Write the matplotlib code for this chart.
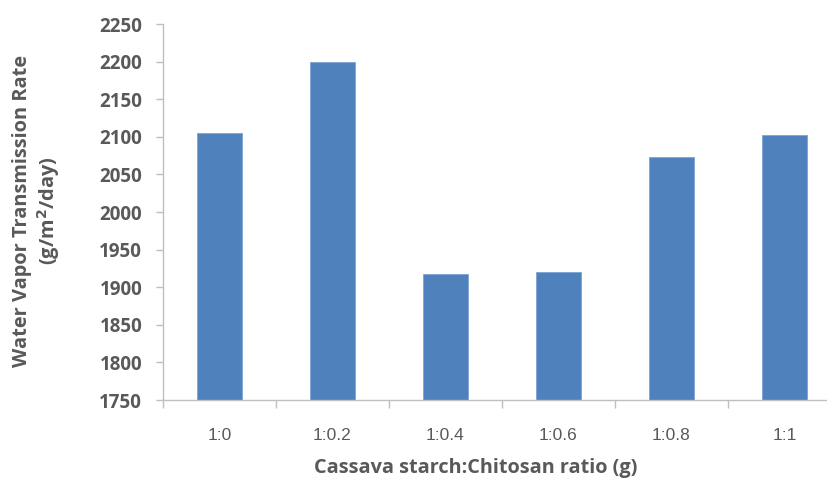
import matplotlib
matplotlib.use("Agg")
import matplotlib.pyplot as plt
from matplotlib.ticker import FixedLocator, NullFormatter

ratios = ['1:0', '1:0.2', '1:0.4', '1:0.6', '1:0.8', '1:1']
wvtr = [2105, 2200, 1918, 1920, 2073, 2102]
y_ticks = list(range(1750, 2251, 50))

bar_color = '#4F81BD'
axis_color = '#BFBFBF'
text_color = '#595959'

fig = plt.figure(figsize=(8.28, 4.9), dpi=100)
# right edge of the plot area runs past the picture, as in the original
ax = fig.add_axes([163 / 828, 1 - 400 / 490, 678 / 828, 376 / 490])

x = list(range(len(ratios)))
ax.bar(x, wvtr, width=0.4, color=bar_color, edgecolor='#7FA3D3', linewidth=0.6, zorder=2)

ax.set_xlim(-0.5, len(ratios) - 0.5)
ax.set_ylim(1750, 2250)
ax.set_yticks(y_ticks)
ax.set_yticklabels([str(v) for v in y_ticks], fontdict={'family': 'Open Sans', 'weight': 'bold', 'size': 13.5})

ax.set_xticks(x)
ax.set_xticklabels(ratios, family='Liberation Sans', size=12.5, color=text_color)
ax.xaxis.set_minor_locator(FixedLocator([i - 0.5 for i in range(len(ratios) + 1)]))
ax.xaxis.set_minor_formatter(NullFormatter())
ax.tick_params(axis='x', which='major', length=0, pad=20)
ax.tick_params(axis='x', which='minor', length=6, color=axis_color, width=1)
ax.tick_params(axis='y', length=5, color=axis_color, width=1, labelcolor=text_color, pad=10)

for side in ['top', 'right']:
    ax.spines[side].set_visible(False)
for side in ['left', 'bottom']:
    ax.spines[side].set_color(axis_color)
    ax.spines[side].set_linewidth(1)

fig.text(476 / 828, 1 - 468 / 490, 'Cassava starch:Chitosan ratio (g)', ha='center', va='center',
         family='Open Sans', weight='bold', size=14.3, color=text_color)
fig.text(37 / 828, 1 - 211 / 490, 'Water Vapor Transmission Rate\n(g/m$^{\\mathbf{2}}$/day)', ha='center', va='center',
         rotation=90, family='Open Sans', weight='bold', size=14.4, color=text_color, linespacing=1.15)

fig.savefig('out.png', dpi=100)
